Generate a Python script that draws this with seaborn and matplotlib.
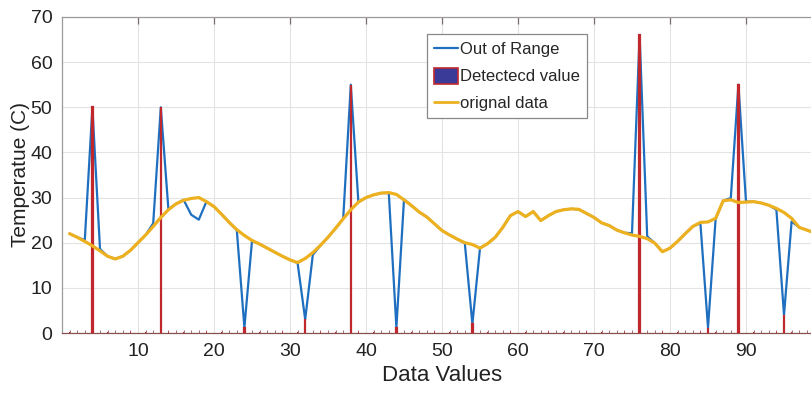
import numpy as np
import pandas as pd
import matplotlib
matplotlib.use("Agg")
import matplotlib.pyplot as plt
import seaborn as sns
from matplotlib.patches import Patch
from matplotlib.lines import Line2D
from matplotlib.ticker import MultipleLocator

# ---------------- data ----------------
x_values = list(range(1, 101))

original_data = [
    22.0, 21.2, 20.3, 19.3, 18.2, 17.0, 16.4, 17.0, 18.3, 20.0,
    21.7, 23.6, 25.6, 27.3, 28.6, 29.4, 29.8, 30.0, 29.1, 28.0,
    26.3, 24.5, 22.9, 21.6, 20.5, 19.7, 18.8, 17.9, 17.0, 16.2,
    15.6, 16.5, 17.8, 19.4, 21.2, 23.2, 25.3, 27.3, 29.0, 30.0,
    30.6, 31.0, 31.1, 30.7, 29.5, 28.2, 26.8, 25.7, 24.2, 22.7,
    21.7, 20.8, 20.0, 19.6, 18.8, 19.8, 21.2, 23.4, 26.0, 26.9,
    25.8, 26.9, 24.9, 26.0, 26.9, 27.3, 27.5, 27.4, 26.5, 25.6,
    24.4, 23.8, 22.8, 22.2, 21.7, 21.4, 20.9, 19.9, 18.0, 18.8,
    20.3, 22.0, 23.6, 24.5, 24.6, 25.4, 29.3, 29.5, 28.9, 29.0,
    29.1, 28.8, 28.3, 27.6, 26.7, 25.4, 23.4, 22.8, 22.2, 21.8,
]

out_of_range = [
    22.0, 21.2, 20.6, 50.0, 18.6, 17.0, 16.4, 17.0, 18.3, 20.0,
    21.7, 24.3, 50.0, 27.4, 28.6, 29.5, 26.2, 25.1, 29.1, 28.0,
    26.3, 24.5, 22.8, 1.2, 20.4, 19.7, 18.8, 17.9, 17.0, 16.2,
    15.5, 3.0, 17.3, 19.4, 21.2, 23.2, 25.3, 55.0, 29.0, 30.0,
    30.6, 31.0, 31.0, 1.2, 29.6, 28.2, 26.8, 25.7, 24.2, 22.7,
    21.7, 20.8, 19.9, 2.0, 18.8, 19.8, 21.2, 23.4, 26.0, 26.9,
    25.8, 26.9, 24.9, 26.0, 26.9, 27.3, 27.5, 27.4, 26.5, 25.6,
    24.4, 23.8, 22.8, 22.2, 22.1, 66.0, 21.4, 19.9, 18.0, 18.8,
    20.3, 22.0, 23.6, 24.3, 1.2, 25.2, 29.3, 29.9, 55.0, 29.1,
    29.1, 28.8, 28.3, 27.3, 4.0, 24.7, 23.4, 22.8, 22.2, 21.8,
]

detected_x = [4, 13, 24, 32, 38, 44, 54, 76, 85, 89, 95]
detected_vals = [50.0, 50.0, 1.2, 3.0, 55.0, 1.2, 2.0, 66.0, 1.2, 55.0, 4.0]

x_ticks = [10, 20, 30, 40, 50, 60, 70, 80, 90]
y_ticks = [0, 10, 20, 30, 40, 50, 60, 70]

detected_full = [0.0] * len(x_values)
for xi, v in zip(detected_x, detected_vals):
    detected_full[xi - 1] = v

df = pd.DataFrame({"x": x_values, "orig": original_data,
                   "out": out_of_range, "det": detected_full})

# ---------------- style ----------------
sns.set_style("white")
plt.rcParams["font.family"] = ["Liberation Sans", "DejaVu Sans"]

BLUE = "#1f6fc0"
YELLOW = "#EDB120"
RED = "#C0282E"
FACE = "#3A3A98"
TICKC = "#7a6a6a"

fig = plt.figure(figsize=(8.12, 3.97), dpi=100)
ax = fig.add_axes([62 / 812, 1 - 333 / 397, (821.3 - 61.3) / 812, (333 - 17) / 397])

sns.lineplot(data=df, x="x", y="out", ax=ax, color=BLUE, linewidth=1.6,
             zorder=2, legend=False)
ax.bar(df["x"], df["det"], width=0.04, color=FACE, edgecolor=RED,
       linewidth=1.6, zorder=3)
sns.lineplot(data=df, x="x", y="orig", ax=ax, color=YELLOW, linewidth=2.3,
             zorder=4, legend=False)

ax.set_xlim(0, 100)
ax.set_ylim(0, 70)
ax.set_xticks(x_ticks)
ax.set_yticks(y_ticks)
ax.xaxis.set_minor_locator(MultipleLocator(1))
ax.grid(True, which="major", color="#e3e3e3", linewidth=0.8, zorder=0)
ax.set_axisbelow(True)

for s in ["top", "left", "right", "bottom"]:
    ax.spines[s].set_color("#9a9a9a")
    ax.spines[s].set_linewidth(0.9)
ax.spines["bottom"].set_color("#8a5050")

ax.tick_params(axis="both", which="major", direction="in", length=5,
               width=0.9, color=TICKC, labelsize=14, labelcolor="#222222",
               top=True, right=True, pad=7)
ax.tick_params(axis="x", which="minor", direction="in", length=2,
               width=0.7, color="#a07070", top=False, bottom=True)

ax.set_xlabel("Data Values", fontsize=16, color="#222222", labelpad=4)
ax.set_ylabel("Temperatue (C)", fontsize=15, color="#222222", labelpad=0)

handles = [
    Line2D([0], [0], color=BLUE, linewidth=1.6),
    Patch(facecolor=FACE, edgecolor=RED, linewidth=1.2),
    Line2D([0], [0], color=YELLOW, linewidth=2.0),
]
labels = ["Out of Range", "Detectecd value", "orignal data"]
leg = ax.legend(handles, labels, loc="upper left",
                bbox_to_anchor=(427 / 812, 1 - 34 / 397),
                bbox_transform=fig.transFigure, fontsize=12,
                frameon=True, fancybox=False, edgecolor="#888888",
                framealpha=1, handlelength=1.45, handleheight=1.1,
                handletextpad=0.15, borderpad=0.4, labelspacing=0.62,
                borderaxespad=0)
leg.get_frame().set_linewidth(0.9)

fig.savefig("out.png", dpi=100)
